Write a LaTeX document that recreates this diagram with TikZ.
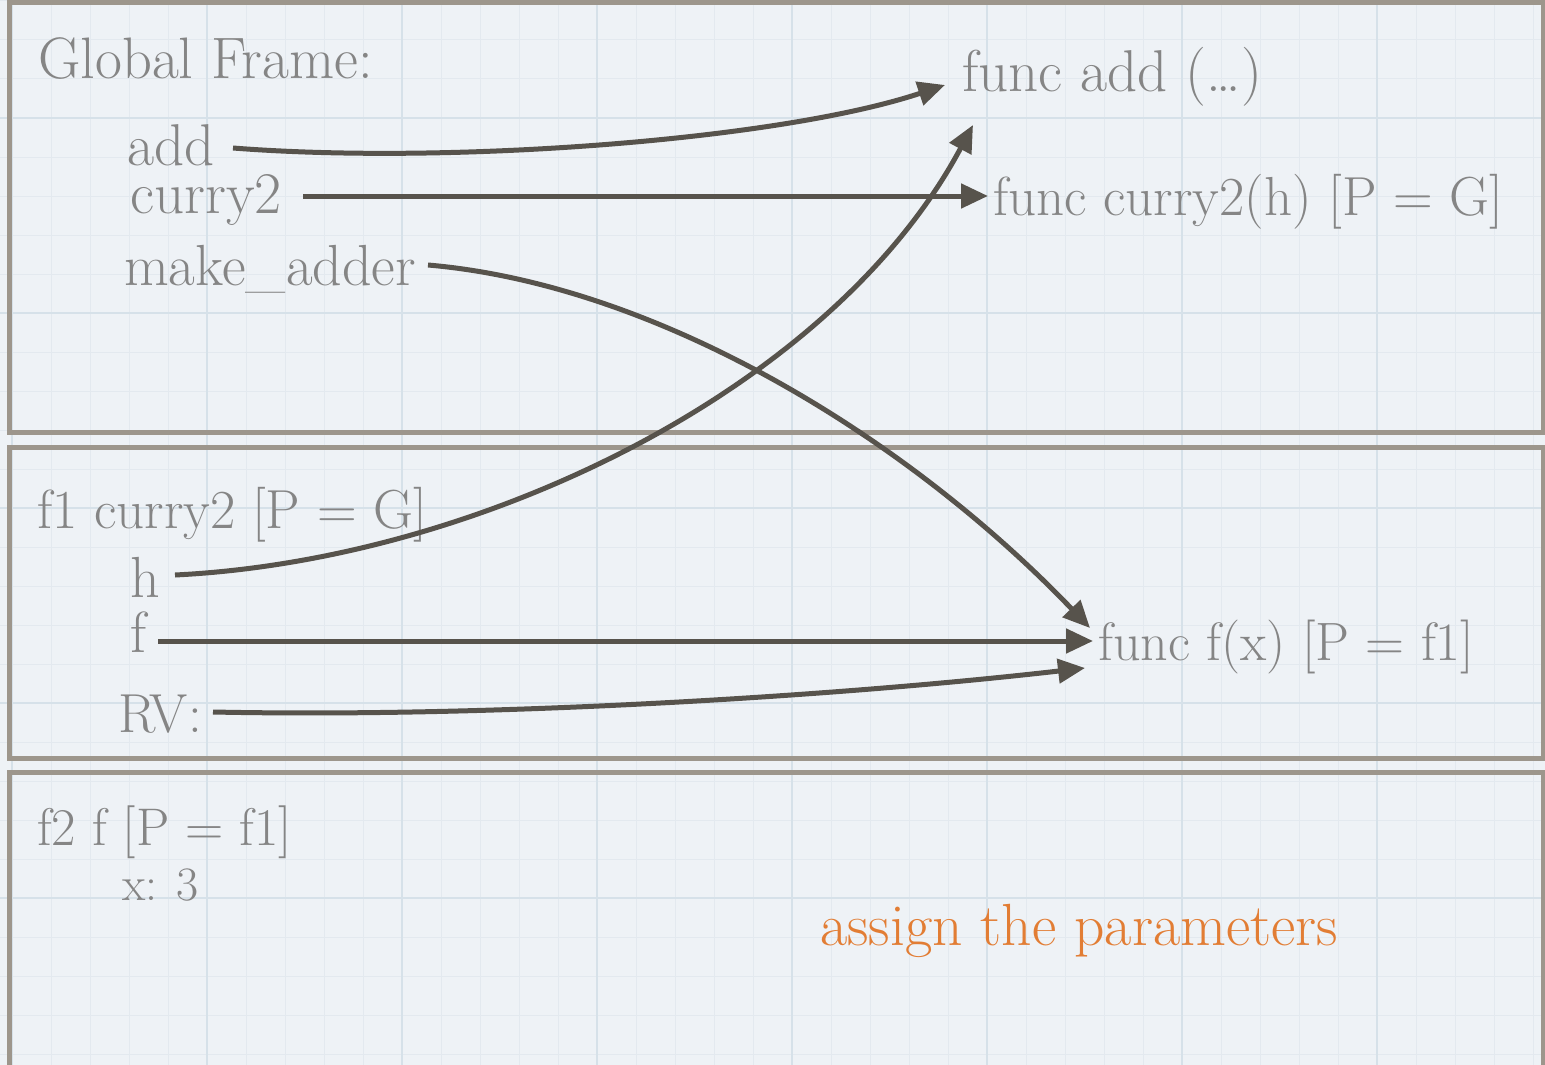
\documentclass[tikz,border=0pt]{standalone}
\usetikzlibrary{arrows.meta,calc}
\definecolor{bgc}{HTML}{EEF2F6}
\definecolor{minorc}{HTML}{E3E9EF}
\definecolor{majorc}{HTML}{D6E1E9}
\definecolor{frmc}{HTML}{9D968C}
\definecolor{txtc}{HTML}{858585}
\definecolor{arrc}{HTML}{57534C}
\definecolor{notec}{HTML}{E27D34}
\begin{document}
\begin{tikzpicture}[x=1pt,y=-1pt,
  lbl/.style={font=\fontsize{#1}{#1}\selectfont, text=txtc, inner sep=0pt, anchor=base west},
  lbl/.default=56,
  arr/.style={draw=arrc, line width=5pt, -{Triangle[length=27pt,width=24pt]}},
  frm/.style={draw=frmc, line width=5pt}]
\useasboundingbox (0,0) rectangle (1545,1065);
\clip (0,0) rectangle (1545,1065);
% paper background
\fill[bgc] (0,0) rectangle (1545,1065);
\foreach \j in {-1,...,39} {
  \draw[minorc, line width=1pt] (12+39*\j,0) -- (12+39*\j,1065);
}
\foreach \j in {-4,...,25} {
  \draw[minorc, line width=1pt] (0,118+39*\j) -- (1545,118+39*\j);
}
\foreach \k in {0,...,7} {
  \draw[majorc, line width=2pt] (12+195*\k,0) -- (12+195*\k,1065);
}
\foreach \k in {-1,...,5} {
  \draw[majorc, line width=2pt] (0,118+195*\k) -- (1545,118+195*\k);
}
% frames
\draw[frm] (9,3) rectangle (1543,432);
\draw[frm] (9,447) rectangle (1543,758);
\draw[frm] (9,772) rectangle (1543,1075);
% global frame
\node[lbl=58.5] (global) at (38,78) {Global Frame:};
\node[lbl=59] (add) at (127,165) {add};
\node[lbl=59] (curry) at (130,213) {curry2};
\node[lbl=58] (mkadd) at (124,285) {make\_adder};
\node[lbl=59] (fadd) at (962,92) {func add (\ldots)};
\node[lbl=55] (fcurry) at (993,215) {func curry2(h) [P = G]};
% frame f1
\node[lbl=55] (f1) at (37,528) {f1 curry2 [P = G]};
\node[lbl=58] (h) at (130,597) {h};
\node[lbl=58] (f) at (130,652) {f};
\node[lbl=55] (rv) at (118,732) {RV:};
\node[lbl=54] (ff) at (1098,660) {func f(x) [P = f1]};
% frame f2
\node[lbl=53] (f2) at (37,845) {f2 f [P = f1]};
\node[lbl=48] (x) at (122,900) {x: 3};
\node[lbl=59.5, text=notec] (note) at (820,945) {assign the parameters};
% connector ends
\coordinate (add-out) at (233,148);
\coordinate (fadd-in1) at (945,85);
\coordinate (fadd-in2) at (973,125);
\coordinate (curry-out) at (303,196);
\coordinate (fcurry-in) at (988,196);
\coordinate (mkadd-out) at (428,265);
\coordinate (ff-in1) at (1090,628);
\coordinate (ff-in2) at (1093,641);
\coordinate (ff-in3) at (1085,668);
\coordinate (h-out) at (175,575);
\coordinate (f-out) at (158,641);
\coordinate (rv-out) at (213,712);
% connectors
\draw[arr] (add-out) .. controls (450,165) and (780,140) .. (fadd-in1);
\draw[arr] (curry-out) -- (fcurry-in);
\draw[arr] (mkadd-out) .. controls (660,285) and (910,440) .. (ff-in1);
\draw[arr] (h-out) .. controls (480,560) and (832,389) .. (fadd-in2);
\draw[arr] (f-out) -- (ff-in2);
\draw[arr] (rv-out) .. controls (500,718) and (850,695) .. (ff-in3);
\end{tikzpicture}
\end{document}
